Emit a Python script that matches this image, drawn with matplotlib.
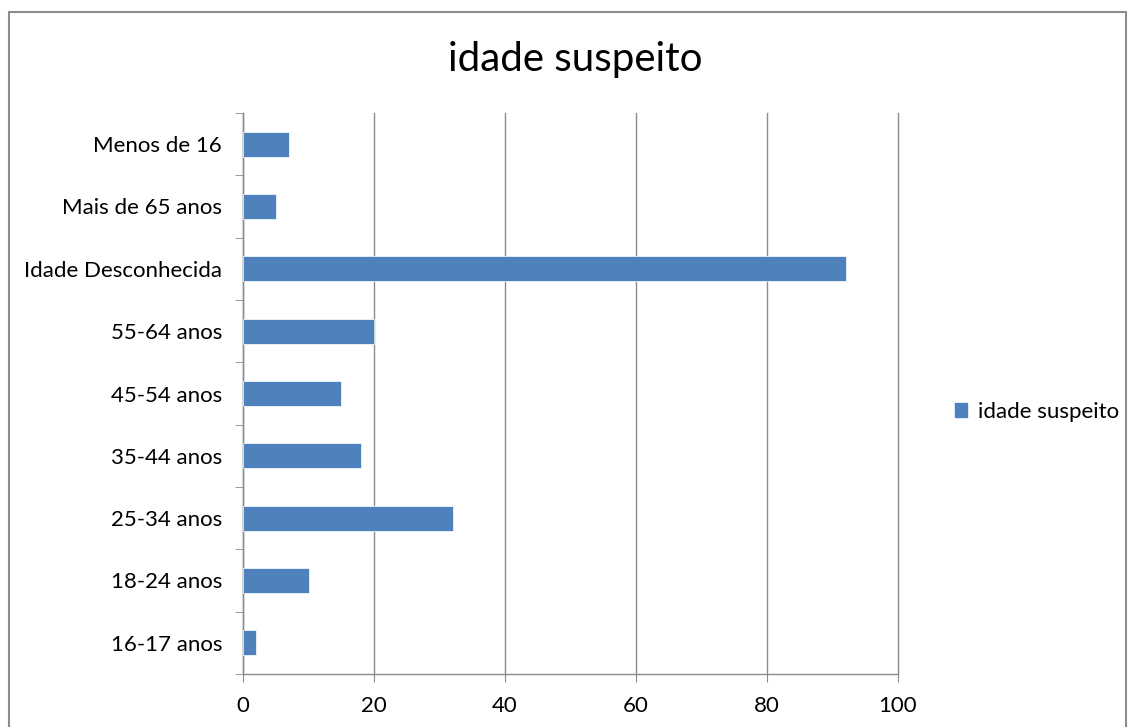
import matplotlib.pyplot as plt
from matplotlib.patches import Rectangle, Patch

categories = ['16-17 anos', '18-24 anos', '25-34 anos', '35-44 anos', '45-54 anos',
              '55-64 anos', 'Idade Desconhecida', 'Mais de 65 anos', 'Menos de 16']
values = [2, 10, 32, 18, 15, 20, 92, 5, 7]
xticks = [0, 20, 40, 60, 80, 100]

plt.rcParams['font.family'] = ['Lato', 'DejaVu Sans']

fig = plt.figure(figsize=(11.29, 7.27), dpi=100)
# outer chart frame
fig.patches.append(Rectangle((9 / 1129, -0.1), (1126 - 9) / 1129, 1.1 - 12 / 727,
                             transform=fig.transFigure, fill=False,
                             edgecolor='#8c8c8c', linewidth=1.5))

ax = fig.add_axes([243 / 1129, 1 - 674 / 727, (898 - 243) / 1129, (674 - 113) / 727])
y = range(len(categories))
ax.barh(y, values, height=0.4, color='#4F81BD', edgecolor='#ffffff', linewidth=0.5,
        zorder=3)

ax.set_xlim(0, 100)
ax.set_ylim(-0.5, len(categories) - 0.5)
ax.set_xticks(xticks)
ax.set_xticklabels([str(v) for v in xticks], fontsize=16)
ax.set_yticks(list(y))
ax.set_yticklabels(categories, fontsize=16)
ax.set_yticks([i + 0.5 for i in range(-1, len(categories))], minor=True)
ax.tick_params(axis='y', which='major', length=0, pad=15)
ax.tick_params(axis='y', which='minor', length=6, color='#8c8c8c', direction='out')
ax.tick_params(axis='x', length=6, color='#8c8c8c', direction='out', pad=10)
ax.grid(axis='x', color='#8c8c8c', linewidth=1, zorder=0)
for line in ax.get_xgridlines():
    line.set_clip_on(False)

for side in ['top', 'right']:
    ax.spines[side].set_visible(False)
for side in ['left', 'bottom']:
    ax.spines[side].set_color('#8c8c8c')
    ax.spines[side].set_linewidth(1)

fig.text(575 / 1129, 1 - 60 / 727, 'idade suspeito', ha='center', va='center', fontsize=29)

handle = Patch(facecolor='#4F81BD', edgecolor='#4F81BD')
fig.legend([handle], ['idade suspeito'], loc='center left',
           bbox_to_anchor=(935 / 1129, 1 - 412 / 727), frameon=False,
           fontsize=16, handlelength=0.55, handleheight=0.55, handletextpad=0.5)

fig.savefig('out.png', dpi=100)
